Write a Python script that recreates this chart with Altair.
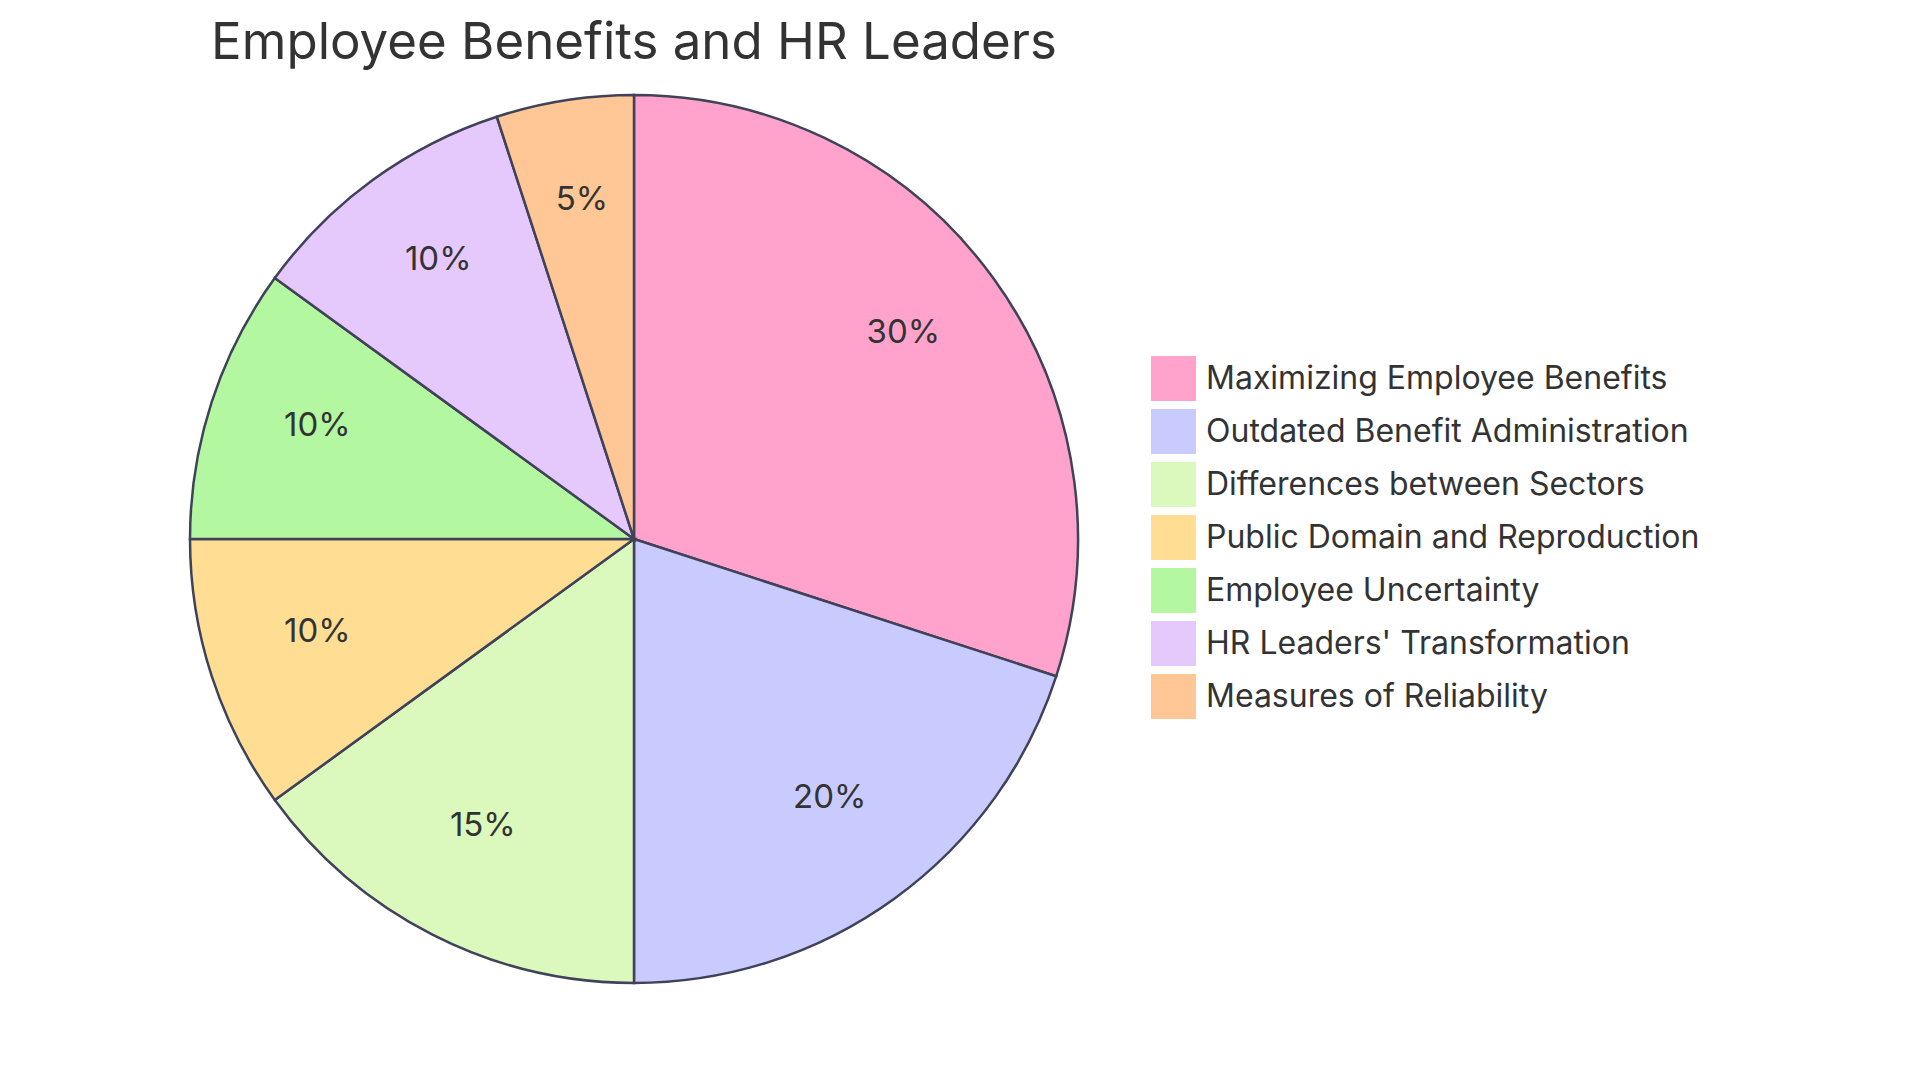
import altair as alt
import pandas as pd

categories = [
    "Maximizing Employee Benefits",
    "Outdated Benefit Administration",
    "Differences between Sectors",
    "Public Domain and Reproduction",
    "Employee Uncertainty",
    "HR Leaders' Transformation",
    "Measures of Reliability",
]
values = [30, 20, 15, 10, 10, 10, 5]
labels = ["30%", "20%", "15%", "10%", "10%", "10%", "5%"]
colors = ["#FFA3CC", "#C9CBFF", "#DBF9BC", "#FFDE94", "#B3F7A1", "#E6C9FC", "#FFC795"]

df = pd.DataFrame({
    "category": categories,
    "value": values,
    "label": labels,
    "idx": list(range(len(categories))),
})

FONT = "Inter"
R = 444

base = alt.Chart(df).encode(
    theta=alt.Theta("value:Q", stack=True),
    order=alt.Order("idx:Q", sort="ascending"),
)

arcs = base.mark_arc(outerRadius=R, stroke="#40425a", strokeWidth=2.5).encode(
    color=alt.Color(
        "category:N",
        scale=alt.Scale(domain=categories, range=colors),
        sort=categories,
        legend=alt.Legend(
            title=None,
            orient="none",
            legendX=961,
            legendY=261,
            symbolType="square",
            symbolSize=2025,
            symbolStrokeWidth=0,
            symbolOpacity=1,
            labelFont=FONT,
            labelFontSize=32,
            labelColor="#333333",
            labelOffset=10,
            rowPadding=8,
            padding=0,
            labelLimit=800,
        ),
    )
)

text = base.mark_text(radius=R * 0.75, fontSize=33, font=FONT, color="#333333", dy=-10).encode(
    text="label:N"
)

chart = (
    alt.layer(arcs, text)
    .properties(
        width=2 * R,
        height=2 * R,
        title=alt.TitleParams(
            "Employee Benefits and HR Leaders",
            font=FONT,
            fontSize=51,
            fontWeight="normal",
            color="#333333",
            anchor="middle",
            offset=20,
        ),
        autosize=alt.AutoSizeParams(type="none"),
        padding={"left": 190, "top": 95, "right": 842, "bottom": 97},
    )
    .configure_view(stroke=None)
)

chart.save("out.html", embed_options={"renderer": "svg", "actions": False})
